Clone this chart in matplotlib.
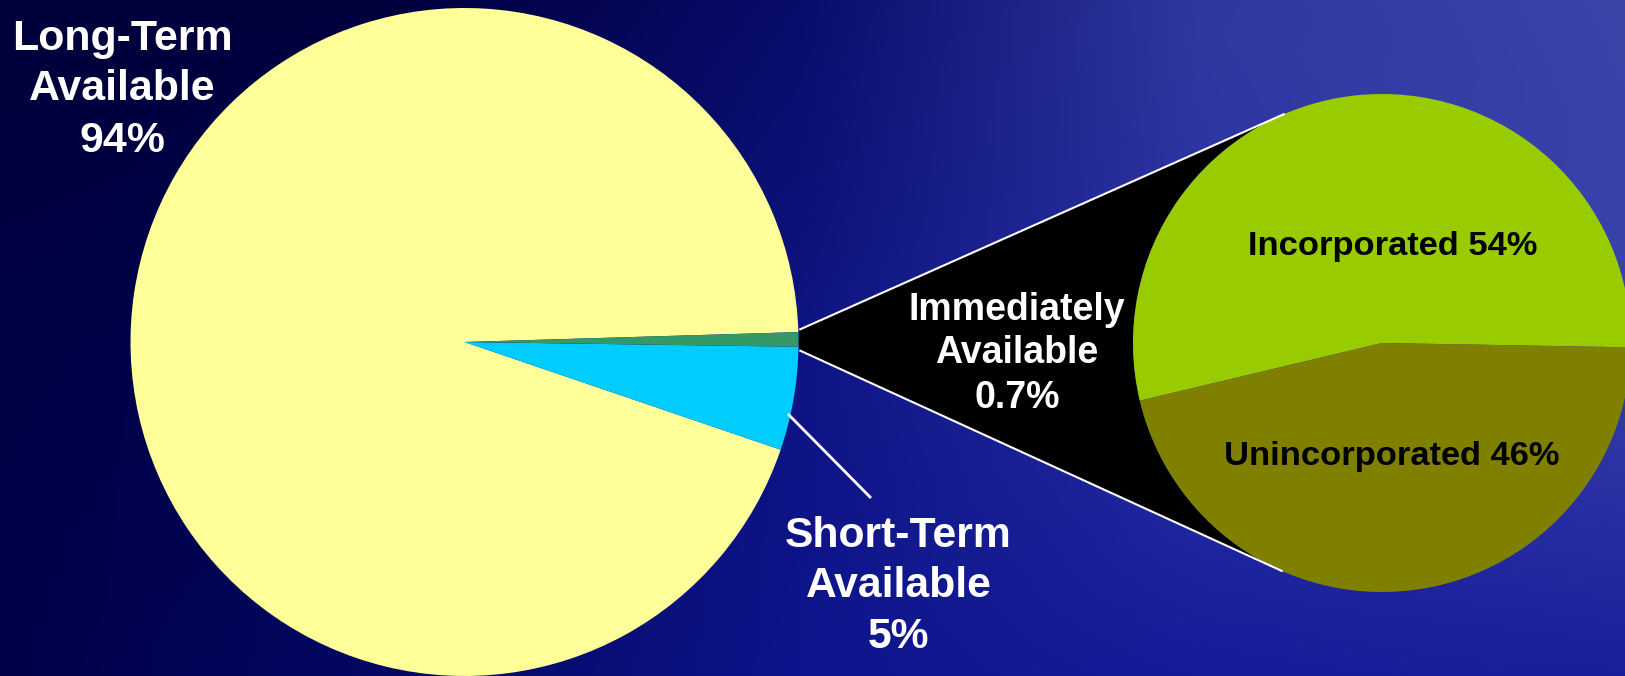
import numpy as np
import matplotlib
matplotlib.use('Agg')
import matplotlib.pyplot as plt
from matplotlib.colors import to_rgb

W, H = 1625, 676

# ---- data ----
main_labels = ['Long-Term\nAvailable\n94%', 'Short-Term\nAvailable\n5%', 'Immediately\nAvailable\n0.7%']
main_values = [94.3, 5.0, 0.7]
main_colors = ['#FFFF99', '#00CCFF', '#339966']

sub_labels = ['Incorporated 54%', 'Unincorporated 46%']
sub_values = [54, 46]
sub_colors = ['#99CC00', '#808000']

FONT = 'Liberation Sans'

fig = plt.figure(figsize=(W / 100, H / 100), dpi=100)
ax = fig.add_axes([0, 0, 1, 1])

# ---- background gradient (anchor colours, pixel coords from top) ----
gx = np.array([0, 400, 800, 1200, 1625])
gy = np.array([0, 340, 676])
anchors = [
    ['#00003a', '#00003e', '#080c6a', '#3038a0', '#3c44aa'],
    ['#000046', '#02064e', '#0e1482', '#2a32a6', '#3840aa'],
    ['#00004a', '#040864', '#0e148c', '#161c98', '#1a1e9a'],
]
anc = np.array([[to_rgb(c) for c in row] for row in anchors])
xs = np.arange(W)
ys = np.arange(H)
rows = np.stack([np.stack([np.interp(xs, gx, anc[i, :, k]) for k in range(3)], -1)
                 for i in range(len(gy))])  # (3, W, 3)
img = np.empty((H, W, 3))
for k in range(3):
    col = rows[:, :, k]  # (3, W)
    img[:, :, k] = np.array([np.interp(ys, gy, col[:, j]) for j in range(W)]).T
ax.imshow(img, extent=(0, W, 0, H), origin='upper', aspect='auto', zorder=0)

# ---- main pie ----
c1 = (464.5, H - 342)
r1 = 334
w1, _ = ax.pie(main_values, colors=main_colors, startangle=1.7, counterclock=True,
               center=c1, radius=r1, frame=True,
               wedgeprops=dict(linewidth=0, zorder=3, antialiased=True))

# ---- sub pie ----
c2 = (1382, H - 343)
r2 = 249
w2, _ = ax.pie(sub_values, colors=sub_colors, startangle=-1, counterclock=True,
               center=c2, radius=r2, frame=True,
               wedgeprops=dict(linewidth=0, zorder=3, antialiased=True))

# ---- connector from the small wedge to the sub pie ----
g = w1[2]
def on_circle(c, r, ang):
    a = np.deg2rad(ang)
    return np.array([c[0] + r * np.cos(a), c[1] + r * np.sin(a)])

p_top = on_circle(c1, r1 + 1, g.theta2 + 0.4)
p_bot = on_circle(c1, r1 + 1, g.theta1 - 0.6)

a_top = 113.0
a_bot = 246.5
t_top = on_circle(c2, r2, a_top)
t_bot = on_circle(c2, r2, a_bot)
arc = np.array([on_circle(c2, r2, a) for a in np.linspace(a_top, a_bot, 100)])
poly = np.vstack([p_top, arc, p_bot])
ax.fill(poly[:, 0], poly[:, 1], color='black', zorder=2, linewidth=0)
ax.plot([p_top[0], t_top[0]], [p_top[1], t_top[1]], color='white', lw=1.5, zorder=4,
        solid_capstyle='butt')
ax.plot([p_bot[0], t_bot[0]], [p_bot[1], t_bot[1]], color='white', lw=1.5, zorder=4,
        solid_capstyle='butt')

# leader line for short-term slice
ax.plot([789, 870], [H - 415, H - 497], color='white', lw=2, zorder=4)

# ---- labels ----
def put(label, cx, baselines, size, color):
    for line, b in zip(label.split('\n'), baselines):
        ax.text(cx, H - b, line, ha='center', va='baseline', fontsize=size,
                fontweight='bold', family=FONT, color=color, zorder=5)

put(main_labels[0], 122.5, [50, 100, 152], 30.9, 'white')
put(main_labels[1], 898.5, [547, 597, 648], 30.7, 'white')
put(main_labels[2], 1017, [320, 363, 408], 27.0, 'white')
put(sub_labels[0], 1392.5, [255], 24.8, 'black')
put(sub_labels[1], 1392, [465], 24.8, 'black')

ax.set_xlim(0, W)
ax.set_ylim(0, H)
ax.set_aspect('auto')
ax.axis('off')

fig.savefig('out.png', dpi=100)
